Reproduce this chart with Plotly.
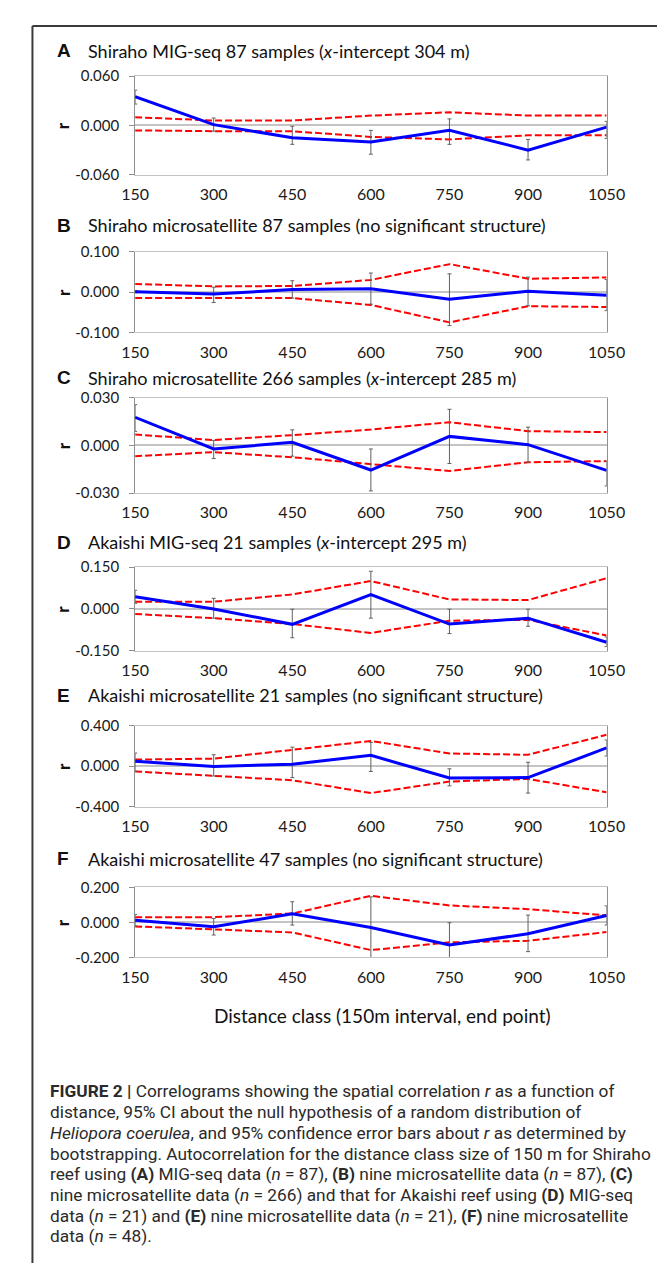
import plotly.graph_objects as go

W, H = 668, 1263

# ---------------- data ----------------
distance = [150, 300, 450, 600, 750, 900, 1050]
x_tick_labels = ["150", "300", "450", "600", "750", "900", "1050"]

panel_letters = ["A", "B", "C", "D", "E", "F"]
panel_titles = [
    "Shiraho MIG-seq 87 samples (<i>x</i>-intercept 304 m)",
    "Shiraho microsatellite 87 samples (no significant structure)",
    "Shiraho microsatellite 266 samples (<i>x</i>-intercept 285 m)",
    "Akaishi MIG-seq 21 samples (<i>x</i>-intercept 295 m)",
    "Akaishi microsatellite 21 samples (no significant structure)",
    "Akaishi microsatellite 47 samples (no significant structure)",
]
y_limits = [0.060, 0.100, 0.030, 0.150, 0.400, 0.200]
y_tick_labels = [
    ["-0.060", "0.000", "0.060"],
    ["-0.100", "0.000", "0.100"],
    ["-0.030", "0.000", "0.030"],
    ["-0.150", "0.000", "0.150"],
    ["-0.400", "0.000", "0.400"],
    ["-0.200", "0.000", "0.200"],
]

# r (blue), bootstrap error-bar ends, null-hypothesis 95% CI (red dashed)
r_A = [0.035, 0.001, -0.015, -0.020, -0.006, -0.030, -0.002]
err_hi_A = [0.043, 0.009, -0.001, -0.006, 0.008, -0.017, 0.005]
err_lo_A = [0.026, -0.007, -0.023, -0.035, -0.023, -0.042, -0.016]
ci_up_A = [0.010, 0.006, 0.006, 0.012, 0.016, 0.012, 0.012]
ci_lo_A = [-0.006, -0.007, -0.007, -0.014, -0.017, -0.012, -0.012]

r_B = [0.001, -0.005, 0.006, 0.008, -0.018, 0.002, -0.008]
err_hi_B = [0.004, 0.012, 0.028, 0.047, 0.045, 0.037, 0.031]
err_lo_B = [-0.002, -0.026, -0.015, -0.030, -0.083, -0.034, -0.046]
ci_up_B = [0.020, 0.014, 0.015, 0.030, 0.069, 0.033, 0.036]
ci_lo_B = [-0.015, -0.015, -0.015, -0.032, -0.075, -0.035, -0.037]

r_C = [0.0176, -0.0023, 0.0019, -0.0155, 0.0056, 0.0004, -0.0157]
err_hi_C = [0.0255, 0.0031, 0.0097, -0.0023, 0.0226, 0.0114, -0.0099]
err_lo_C = [0.0087, -0.0083, -0.0068, -0.0286, -0.0114, -0.0106, -0.0255]
ci_up_C = [0.0068, 0.0033, 0.0064, 0.0099, 0.0145, 0.0089, 0.0083]
ci_lo_C = [-0.0068, -0.0043, -0.0075, -0.0116, -0.0161, -0.0106, -0.0099]

r_D = [0.044, 0.000, -0.055, 0.051, -0.054, -0.033, -0.119]
err_hi_D = [0.067, 0.038, -0.001, 0.135, -0.001, -0.001, -0.100]
err_lo_D = [0.020, -0.033, -0.103, -0.033, -0.088, -0.062, -0.135]
ci_up_D = [0.026, 0.026, 0.052, 0.100, 0.034, 0.032, 0.110]
ci_lo_D = [-0.018, -0.033, -0.054, -0.086, -0.042, -0.039, -0.095]

r_E = [0.049, -0.003, 0.019, 0.107, -0.117, -0.113, 0.181]
err_hi_E = [0.130, 0.113, 0.188, 0.236, -0.026, 0.039, 0.260]
err_lo_E = [-0.050, -0.097, -0.113, -0.052, -0.194, -0.266, 0.100]
ci_up_E = [0.065, 0.075, 0.162, 0.250, 0.126, 0.113, 0.311]
ci_lo_E = [-0.052, -0.094, -0.139, -0.266, -0.152, -0.126, -0.259]

r_F = [0.013, -0.025, 0.049, -0.029, -0.129, -0.065, 0.040]
err_hi_F = [0.046, 0.023, 0.118, 0.146, -0.002, 0.042, 0.095]
err_lo_F = [-0.020, -0.072, -0.015, -0.205, -0.205, -0.167, -0.015]
ci_up_F = [0.029, 0.030, 0.051, 0.152, 0.097, 0.076, 0.040]
ci_lo_F = [-0.023, -0.042, -0.057, -0.158, -0.114, -0.105, -0.055]

r_all = [r_A, r_B, r_C, r_D, r_E, r_F]
err_hi_all = [err_hi_A, err_hi_B, err_hi_C, err_hi_D, err_hi_E, err_hi_F]
err_lo_all = [err_lo_A, err_lo_B, err_lo_C, err_lo_D, err_lo_E, err_lo_F]
ci_up_all = [ci_up_A, ci_up_B, ci_up_C, ci_up_D, ci_up_E, ci_up_F]
ci_lo_all = [ci_lo_A, ci_lo_B, ci_lo_C, ci_lo_D, ci_lo_E, ci_lo_F]

x_axis_title = "Distance class (150m interval, end point)"
caption_lines = [
    "<b>FIGURE 2 |</b> Correlograms showing the spatial correlation <i>r</i> as a function of",
    "distance, 95% CI about the null hypothesis of a random distribution of",
    "<i>Heliopora coerulea</i>, and 95% confidence error bars about <i>r</i> as determined by",
    "bootstrapping. Autocorrelation for the distance class size of 150 m for Shiraho",
    "reef using <b>(A)</b> MIG-seq data (<i>n</i> = 87), <b>(B)</b> nine microsatellite data (<i>n</i> = 87), <b>(C)</b>",
    "nine microsatellite data (<i>n</i> = 266) and that for Akaishi reef using <b>(D)</b> MIG-seq",
    "data (<i>n</i> = 21) and <b>(E)</b> nine microsatellite data (<i>n</i> = 21), <b>(F)</b> nine microsatellite",
    "data (<i>n</i> = 48).",
]

# ---------------- layout (pixels) ----------------
plot_left, plot_right = 119, 615
panel_px = [  # (title_y, plot_top, plot_bottom)
    (33, 59, 159),
    (210, 237, 319),
    (365, 385, 482),
    (532, 557, 642),
    (687, 718, 800),
    (853, 882, 953),
]
caption_y = [1089, 1110, 1131, 1152, 1173, 1194, 1215, 1236]


def pxx(x):
    return x / W


def pxy(y):
    return 1 - y / H


CHART_FONT = "Lato"
BLUE = "#0000ff"
RED = "#ff0000"

fig = go.Figure()
annotations = []

for i in range(6):
    xa = "x" if i == 0 else f"x{i+1}"
    ya = "y" if i == 0 else f"y{i+1}"
    lim = y_limits[i]
    title_y, top, bottom = panel_px[i]

    fig.add_trace(go.Scatter(
        x=distance, y=ci_up_all[i], mode="lines", xaxis=xa, yaxis=ya,
        line=dict(color=RED, width=2, dash="7px,3px"), hoverinfo="skip"))
    fig.add_trace(go.Scatter(
        x=distance, y=ci_lo_all[i], mode="lines", xaxis=xa, yaxis=ya,
        line=dict(color=RED, width=2, dash="7px,3px"), hoverinfo="skip"))
    plus = [h - r for h, r in zip(err_hi_all[i], r_all[i])]
    minus = [r - l for l, r in zip(err_lo_all[i], r_all[i])]
    fig.add_trace(go.Scatter(
        x=distance, y=r_all[i], mode="lines", xaxis=xa, yaxis=ya,
        line=dict(color=BLUE, width=3),
        error_y=dict(type="data", symmetric=False, array=plus, arrayminus=minus,
                     color="#606060", thickness=1, width=2),
        hoverinfo="skip"))

    xkey = "xaxis" if i == 0 else f"xaxis{i+1}"
    ykey = "yaxis" if i == 0 else f"yaxis{i+1}"
    fig.layout[xkey] = dict(
        domain=[pxx(plot_left), pxx(plot_right)], anchor=ya,
        range=[150, 1050], tickvals=distance, ticktext=x_tick_labels,
        showgrid=False, zeroline=False, showline=True, mirror=True,
        linecolor="#c4c4c4", linewidth=1, ticks="",
        tickfont=dict(family=CHART_FONT, size=16, color="#1a1a1a"),
        ticklabelstandoff=5,
    )
    fig.layout[ykey] = dict(
        domain=[pxy(bottom), pxy(top)], anchor=xa,
        range=[-lim, lim], tickvals=[-lim, 0, lim], ticktext=y_tick_labels[i],
        showgrid=False, zeroline=True, zerolinecolor="#c4c4c4", zerolinewidth=1.5,
        showline=True, mirror=True, linecolor="#8f8f8f", linewidth=1,
        ticks="outside", ticklen=5, tickcolor="#8f8f8f",
        tickfont=dict(family=CHART_FONT, size=15, color="#1a1a1a"),
        ticklabelstandoff=7,
    )

    annotations.append(dict(
        text=f"<b>{panel_letters[i]}</b>", x=pxx(35), y=pxy(title_y),
        xref="paper", yref="paper", xanchor="left", yanchor="middle",
        showarrow=False, font=dict(family="Liberation Sans", size=19, color="#111")))
    annotations.append(dict(
        text=panel_titles[i], x=pxx(67), y=pxy(title_y),
        xref="paper", yref="paper", xanchor="left", yanchor="middle",
        showarrow=False, font=dict(family=CHART_FONT, size=18, color="#111")))
    annotations.append(dict(
        text="<b>r</b>", x=pxx(43), y=pxy((top + bottom) / 2), textangle=-90,
        xref="paper", yref="paper", xanchor="center", yanchor="middle",
        showarrow=False, font=dict(family=CHART_FONT, size=17, color="#111")))

annotations.append(dict(
    text=x_axis_title, x=pxx(379), y=pxy(1012), xref="paper", yref="paper",
    xanchor="center", yanchor="middle", showarrow=False,
    font=dict(family=CHART_FONT, size=19, color="#111")))

for line, yy in zip(caption_lines, caption_y):
    annotations.append(dict(
        text=line, x=pxx(27), y=pxy(yy), xref="paper", yref="paper",
        xanchor="left", yanchor="middle", showarrow=False,
        font=dict(family="Roboto", size=17.3, color="#2a2a2a")))

shapes = [
    dict(type="line", xref="paper", yref="paper", x0=pxx(11), x1=1.0,
         y0=pxy(8), y1=pxy(8), line=dict(color="#3a3a3a", width=2)),
    dict(type="line", xref="paper", yref="paper", x0=pxx(11), x1=pxx(11),
         y0=pxy(8), y1=0.0, line=dict(color="#3a3a3a", width=2)),
]

fig.update_layout(
    width=W, height=H, margin=dict(l=0, r=0, t=0, b=0),
    paper_bgcolor="white", plot_bgcolor="white", showlegend=False,
    annotations=annotations, shapes=shapes,
)

fig.write_html("out.html")
